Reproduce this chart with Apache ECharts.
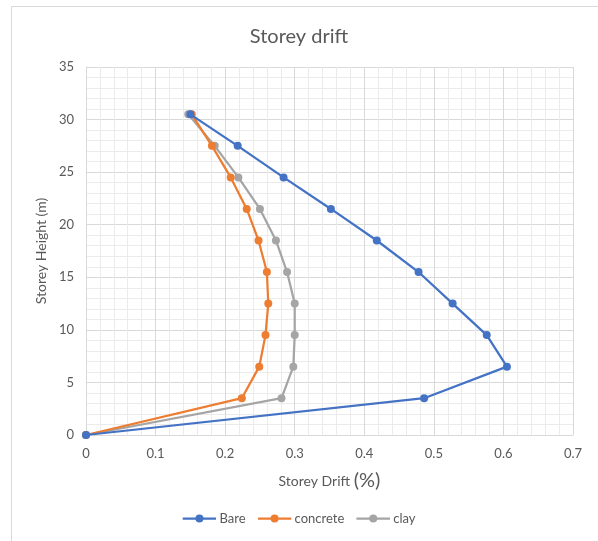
<!DOCTYPE html>
<html>
<head>
<meta charset="utf-8">
<title>Storey drift</title>
<script src="https://cdn.jsdelivr.net/npm/echarts@6/dist/echarts.min.js"></script>
<style>
  html, body { margin: 0; padding: 0; background: #ffffff; }
  #chart { width: 598px; height: 541px; }
</style>
</head>
<body>
<div id="chart"></div>
<script>
// Storey heights (m) at each floor level
const heights = [0, 3.5, 6.5, 9.5, 12.5, 15.5, 18.5, 21.5, 24.5, 27.5, 30.5];

// Storey drift (%) per model
const bareDrift     = [0, 0.486, 0.605, 0.576, 0.527, 0.478, 0.418, 0.352, 0.284, 0.218, 0.150];
const concreteDrift = [0, 0.224, 0.249, 0.258, 0.262, 0.260, 0.248, 0.231, 0.208, 0.181, 0.152];
const clayDrift     = [0, 0.281, 0.298, 0.300, 0.300, 0.289, 0.273, 0.250, 0.219, 0.185, 0.147];

const seriesNames = ['Bare', 'concrete', 'clay'];
const seriesColors = ['#4472C4', '#ED7D31', '#A5A5A5'];
const seriesValues = [bareDrift, concreteDrift, clayDrift];

const textColor = '#595959';
const fontFamily = 'Lato, "Open Sans", sans-serif';

const chart = echarts.init(document.getElementById('chart'), null, { renderer: 'canvas' });

const series = seriesNames.map((name, i) => ({
  name: name,
  type: 'line',
  data: seriesValues[i].map((d, k) => [d, heights[k]]),
  symbol: 'circle',
  symbolSize: 8,
  showSymbol: true,
  lineStyle: { width: 2.25, color: seriesColors[i] },
  itemStyle: { color: seriesColors[i] },
  z: 3 - i,
  animation: false
}));

chart.setOption({
  backgroundColor: '#ffffff',
  animation: false,
  title: {
    text: 'Storey drift',
    left: 'center',
    top: 22,
    textStyle: { color: textColor, fontSize: 20, fontWeight: 'normal', fontFamily: fontFamily }
  },
  graphic: [{
    type: 'rect',
    shape: { x: 11.5, y: 6.5, width: 700, height: 700 },
    style: { fill: 'none', stroke: '#D9D9D9', lineWidth: 1 },
    silent: true,
    z: -10
  }],
  legend: {
    bottom: 11,
    left: 'center',
    itemWidth: 34,
    itemHeight: 10,
    itemGap: 12,
    textStyle: { color: textColor, fontSize: 13, fontFamily: fontFamily, padding: [0, 0, 0, -2] },
    data: seriesNames.map((n, i) => ({
      name: n,
      icon: 'image://data:image/svg+xml;utf8,' + encodeURIComponent(
        '<svg xmlns="http://www.w3.org/2000/svg" width="34" height="10">' +
        '<line x1="0" y1="5" x2="34" y2="5" stroke="' + seriesColors[i] + '" stroke-width="2.25"/>' +
        '<circle cx="17" cy="5" r="4" fill="' + seriesColors[i] + '"/></svg>')
    }))
  },
  grid: { left: 86, right: 25, top: 67, bottom: 106, containLabel: false },
  xAxis: {
    type: 'value',
    min: 0,
    max: 0.7,
    interval: 0.1,
    name: '{a|Storey Drift }{b|(%)}',
    nameLocation: 'middle',
    nameGap: 36,
    nameTextStyle: {
      rich: {
        a: { color: textColor, fontSize: 14, fontFamily: fontFamily },
        b: { color: textColor, fontSize: 20, fontFamily: fontFamily }
      }
    },
    axisLine: { show: true, lineStyle: { color: '#D9D9D9', width: 1 } },
    axisTick: { show: false },
    axisLabel: { color: textColor, fontSize: 13, fontFamily: fontFamily, margin: 12 },
    splitLine: { show: true, lineStyle: { color: '#D9D9D9', width: 1 } },
    minorTick: { show: false, splitNumber: 5 },
    minorSplitLine: { show: true, lineStyle: { color: '#EBEBEB', width: 1 } }
  },
  yAxis: {
    type: 'value',
    min: 0,
    max: 35,
    interval: 5,
    name: 'Storey Height (m)',
    nameLocation: 'middle',
    nameGap: 34,
    nameTextStyle: { color: textColor, fontSize: 14, fontFamily: fontFamily },
    axisLine: { show: true, lineStyle: { color: '#D9D9D9', width: 1 } },
    axisTick: { show: false },
    axisLabel: { color: textColor, fontSize: 13, fontFamily: fontFamily, margin: 12 },
    splitLine: { show: true, lineStyle: { color: '#D9D9D9', width: 1 } },
    minorTick: { show: false, splitNumber: 5 },
    minorSplitLine: { show: true, lineStyle: { color: '#EBEBEB', width: 1 } }
  },
  series: series
});
</script>
</body>
</html>
